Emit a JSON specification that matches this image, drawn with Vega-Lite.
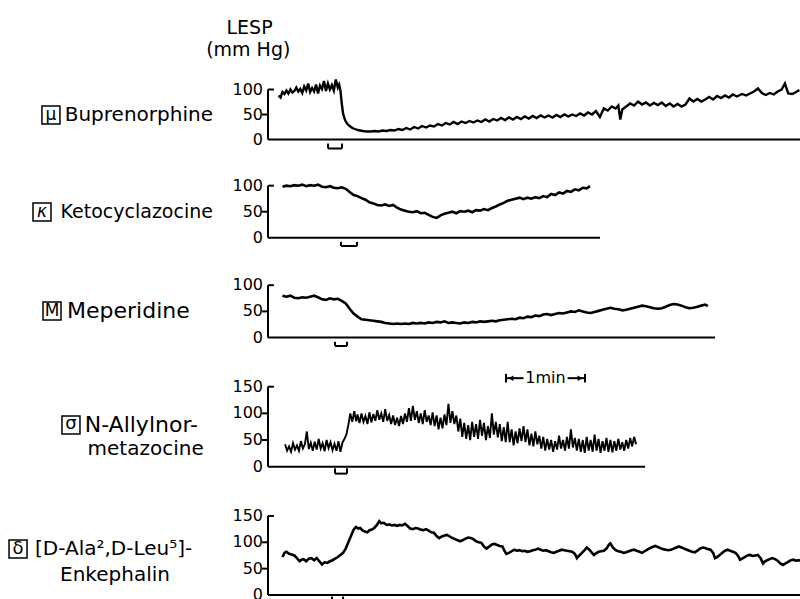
{
"$schema":"https://vega.github.io/schema/vega-lite/v6.json",
"width":800,"height":599,"autosize":{"type":"none"},"padding":0,"background":"white",
"config":{"view":{"stroke":null},"text":{"font":"DejaVu Sans","color":"black"},"rule":{"color":"black","strokeWidth":2}},
"datasets":{
"p1":[{"t":8,"v":88},{"t":9.5,"v":84},{"t":11,"v":95},{"t":12.5,"v":91},{"t":14,"v":98},{"t":15.5,"v":92},{"t":17,"v":100},{"t":18.5,"v":94},{"t":20,"v":97},{"t":21.5,"v":104},{"t":23,"v":96},{"t":24.5,"v":101},{"t":26,"v":93},{"t":27.5,"v":106},{"t":29,"v":98},{"t":30.5,"v":112},{"t":32,"v":95},{"t":33.5,"v":103},{"t":35,"v":96},{"t":36.5,"v":110},{"t":38,"v":92},{"t":39.5,"v":108},{"t":41,"v":101},{"t":42.5,"v":117},{"t":44,"v":97},{"t":45.5,"v":112},{"t":47,"v":100},{"t":48.5,"v":109},{"t":50,"v":98},{"t":51.5,"v":120},{"t":53,"v":104},{"t":54,"v":110},{"t":55,"v":98},{"t":56,"v":72},{"t":57,"v":52},{"t":58.5,"v":39},{"t":60,"v":32},{"t":62,"v":27},{"t":64,"v":23},{"t":66,"v":21},{"t":68,"v":19},{"t":70,"v":18},{"t":72,"v":17},{"t":75,"v":16},{"t":78,"v":16},{"t":81,"v":17},{"t":84,"v":16},{"t":87,"v":18},{"t":90,"v":17},{"t":93,"v":19},{"t":96,"v":18},{"t":99,"v":21},{"t":102,"v":19},{"t":105,"v":23},{"t":108,"v":20},{"t":111,"v":25},{"t":114,"v":22},{"t":117,"v":27},{"t":120,"v":24},{"t":123,"v":28},{"t":126,"v":26},{"t":129,"v":31},{"t":132,"v":28},{"t":135,"v":33},{"t":138,"v":30},{"t":141,"v":35},{"t":144,"v":31},{"t":147,"v":36},{"t":150,"v":33},{"t":153,"v":37},{"t":156,"v":34},{"t":159,"v":38},{"t":162,"v":35},{"t":165,"v":40},{"t":168,"v":36},{"t":171,"v":41},{"t":174,"v":38},{"t":177,"v":43},{"t":180,"v":39},{"t":183,"v":44},{"t":186,"v":40},{"t":189,"v":45},{"t":192,"v":41},{"t":195,"v":46},{"t":198,"v":42},{"t":201,"v":47},{"t":204,"v":43},{"t":207,"v":48},{"t":210,"v":44},{"t":213,"v":48},{"t":216,"v":44},{"t":219,"v":49},{"t":222,"v":45},{"t":225,"v":50},{"t":228,"v":46},{"t":231,"v":50},{"t":234,"v":47},{"t":237,"v":52},{"t":240,"v":48},{"t":243,"v":54},{"t":246,"v":50},{"t":249,"v":57},{"t":252,"v":45},{"t":255,"v":62},{"t":258,"v":58},{"t":261,"v":66},{"t":264,"v":62},{"t":266,"v":68},{"t":267.5,"v":40},{"t":269,"v":60},{"t":272,"v":66},{"t":275,"v":72},{"t":278,"v":68},{"t":281,"v":76},{"t":284,"v":70},{"t":287,"v":74},{"t":290,"v":68},{"t":293,"v":73},{"t":296,"v":69},{"t":299,"v":74},{"t":302,"v":67},{"t":305,"v":72},{"t":308,"v":66},{"t":311,"v":71},{"t":314,"v":66},{"t":317,"v":70},{"t":320,"v":82},{"t":323,"v":76},{"t":326,"v":81},{"t":329,"v":76},{"t":332,"v":80},{"t":335,"v":85},{"t":338,"v":80},{"t":341,"v":87},{"t":344,"v":83},{"t":347,"v":88},{"t":350,"v":84},{"t":353,"v":90},{"t":356,"v":86},{"t":360,"v":91},{"t":363,"v":88},{"t":366,"v":92},{"t":369,"v":96},{"t":372,"v":102},{"t":375,"v":93},{"t":378,"v":89},{"t":381,"v":93},{"t":384,"v":90},{"t":387,"v":96},{"t":390,"v":100},{"t":392.5,"v":112},{"t":395,"v":92},{"t":398,"v":91},{"t":401,"v":95},{"t":403.5,"v":99}],
"p2":[{"t":11,"v":98},{"t":14,"v":100},{"t":17,"v":99},{"t":20,"v":101},{"t":23,"v":100},{"t":26,"v":102},{"t":29,"v":99},{"t":32,"v":101},{"t":35,"v":100},{"t":38,"v":102},{"t":41,"v":98},{"t":44,"v":97},{"t":47,"v":99},{"t":50,"v":96},{"t":53,"v":95},{"t":56,"v":97},{"t":59,"v":94},{"t":62,"v":88},{"t":65,"v":82},{"t":68,"v":80},{"t":71,"v":76},{"t":74,"v":73},{"t":77,"v":68},{"t":80,"v":66},{"t":83,"v":63},{"t":86,"v":62},{"t":89,"v":64},{"t":92,"v":61},{"t":95,"v":63},{"t":98,"v":58},{"t":101,"v":54},{"t":104,"v":52},{"t":107,"v":50},{"t":110,"v":49},{"t":113,"v":51},{"t":116,"v":47},{"t":119,"v":48},{"t":122,"v":44},{"t":125,"v":40},{"t":128,"v":38},{"t":131,"v":43},{"t":134,"v":46},{"t":137,"v":48},{"t":140,"v":50},{"t":143,"v":47},{"t":146,"v":51},{"t":149,"v":50},{"t":152,"v":52},{"t":155,"v":49},{"t":158,"v":53},{"t":161,"v":52},{"t":164,"v":55},{"t":167,"v":53},{"t":170,"v":57},{"t":173,"v":60},{"t":176,"v":64},{"t":179,"v":67},{"t":182,"v":71},{"t":185,"v":73},{"t":188,"v":75},{"t":191,"v":77},{"t":194,"v":74},{"t":197,"v":77},{"t":200,"v":75},{"t":203,"v":78},{"t":206,"v":76},{"t":209,"v":80},{"t":212,"v":78},{"t":215,"v":84},{"t":218,"v":82},{"t":221,"v":87},{"t":224,"v":85},{"t":227,"v":90},{"t":230,"v":88},{"t":233,"v":93},{"t":236,"v":91},{"t":239,"v":96},{"t":242,"v":95},{"t":244.5,"v":99}],
"p3":[{"t":11,"v":80},{"t":14,"v":78},{"t":17,"v":80},{"t":20,"v":76},{"t":23,"v":75},{"t":26,"v":77},{"t":29,"v":76},{"t":32,"v":78},{"t":35,"v":80},{"t":38,"v":77},{"t":41,"v":73},{"t":44,"v":72},{"t":47,"v":75},{"t":50,"v":73},{"t":53,"v":74},{"t":56,"v":70},{"t":59,"v":65},{"t":62,"v":55},{"t":65,"v":46},{"t":68,"v":40},{"t":71,"v":35},{"t":74,"v":34},{"t":77,"v":33},{"t":80,"v":32},{"t":83,"v":31},{"t":86,"v":30},{"t":89,"v":28},{"t":92,"v":27},{"t":95,"v":26},{"t":98,"v":27},{"t":101,"v":26},{"t":104,"v":27},{"t":107,"v":26},{"t":110,"v":28},{"t":113,"v":27},{"t":116,"v":28},{"t":119,"v":27},{"t":122,"v":29},{"t":125,"v":28},{"t":128,"v":30},{"t":131,"v":29},{"t":134,"v":31},{"t":137,"v":28},{"t":140,"v":29},{"t":143,"v":28},{"t":146,"v":27},{"t":149,"v":29},{"t":152,"v":28},{"t":155,"v":30},{"t":158,"v":29},{"t":161,"v":31},{"t":164,"v":30},{"t":167,"v":31},{"t":170,"v":32},{"t":173,"v":31},{"t":176,"v":33},{"t":179,"v":34},{"t":182,"v":35},{"t":185,"v":36},{"t":188,"v":35},{"t":191,"v":38},{"t":194,"v":37},{"t":197,"v":40},{"t":200,"v":39},{"t":203,"v":42},{"t":206,"v":41},{"t":209,"v":44},{"t":212,"v":45},{"t":215,"v":43},{"t":218,"v":45},{"t":221,"v":47},{"t":224,"v":46},{"t":227,"v":48},{"t":230,"v":50},{"t":233,"v":49},{"t":236,"v":52},{"t":239,"v":50},{"t":242,"v":48},{"t":245,"v":47},{"t":248,"v":49},{"t":251,"v":51},{"t":254,"v":53},{"t":257,"v":55},{"t":260,"v":57},{"t":263,"v":55},{"t":266,"v":54},{"t":269,"v":52},{"t":272,"v":53},{"t":275,"v":55},{"t":278,"v":57},{"t":281,"v":59},{"t":284,"v":61},{"t":287,"v":60},{"t":290,"v":58},{"t":293,"v":56},{"t":296,"v":55},{"t":299,"v":56},{"t":302,"v":59},{"t":305,"v":62},{"t":308,"v":64},{"t":311,"v":63},{"t":314,"v":61},{"t":317,"v":58},{"t":320,"v":56},{"t":323,"v":57},{"t":326,"v":59},{"t":329,"v":61},{"t":332,"v":63},{"t":334,"v":60}],
"p4":[{"t":13,"v":42},{"t":14.5,"v":30},{"t":16,"v":38},{"t":17.5,"v":28},{"t":19,"v":44},{"t":20.5,"v":32},{"t":22,"v":40},{"t":23.5,"v":30},{"t":25,"v":48},{"t":26.5,"v":34},{"t":28,"v":42},{"t":29.5,"v":66},{"t":31,"v":33},{"t":32.5,"v":45},{"t":34,"v":30},{"t":35.5,"v":47},{"t":37,"v":32},{"t":38.5,"v":52},{"t":40,"v":34},{"t":41.5,"v":44},{"t":43,"v":29},{"t":44.5,"v":50},{"t":46,"v":35},{"t":47.5,"v":46},{"t":49,"v":31},{"t":50.5,"v":43},{"t":52,"v":30},{"t":53.5,"v":48},{"t":55,"v":28},{"t":56.5,"v":45},{"t":58,"v":52},{"t":59.5,"v":60},{"t":61,"v":78},{"t":62.5,"v":100},{"t":64,"v":84},{"t":65.5,"v":104},{"t":67,"v":85},{"t":68,"v":98},{"t":69.5,"v":82},{"t":71,"v":100},{"t":72.5,"v":84},{"t":74,"v":95},{"t":75.5,"v":80},{"t":77,"v":102},{"t":78.5,"v":83},{"t":80,"v":99},{"t":81.5,"v":86},{"t":83,"v":106},{"t":84.5,"v":88},{"t":86,"v":100},{"t":87.5,"v":84},{"t":89,"v":108},{"t":90.5,"v":86},{"t":92,"v":97},{"t":93.5,"v":80},{"t":95,"v":96},{"t":96.5,"v":78},{"t":98,"v":92},{"t":99.5,"v":76},{"t":101,"v":95},{"t":102.5,"v":80},{"t":104,"v":100},{"t":105.5,"v":84},{"t":107,"v":110},{"t":108.5,"v":86},{"t":110,"v":114},{"t":111.5,"v":88},{"t":113,"v":104},{"t":114.5,"v":82},{"t":116,"v":100},{"t":117.5,"v":80},{"t":119,"v":106},{"t":120.5,"v":84},{"t":122,"v":96},{"t":123.5,"v":78},{"t":125,"v":102},{"t":126.5,"v":76},{"t":128,"v":96},{"t":129.5,"v":70},{"t":131,"v":92},{"t":132.5,"v":72},{"t":134,"v":98},{"t":135.5,"v":78},{"t":137,"v":118},{"t":138.5,"v":82},{"t":140,"v":104},{"t":141.5,"v":80},{"t":143,"v":96},{"t":144.5,"v":66},{"t":146,"v":90},{"t":147.5,"v":56},{"t":149,"v":82},{"t":150.5,"v":52},{"t":152,"v":78},{"t":153.5,"v":50},{"t":155,"v":84},{"t":156.5,"v":56},{"t":158,"v":80},{"t":159.5,"v":52},{"t":161,"v":88},{"t":162.5,"v":58},{"t":164,"v":82},{"t":165.5,"v":50},{"t":167,"v":76},{"t":168.5,"v":54},{"t":170,"v":100},{"t":171.5,"v":60},{"t":173,"v":84},{"t":174.5,"v":55},{"t":176,"v":80},{"t":177.5,"v":48},{"t":179,"v":74},{"t":180.5,"v":46},{"t":182,"v":84},{"t":183.5,"v":46},{"t":185,"v":70},{"t":186.5,"v":40},{"t":188,"v":66},{"t":189.5,"v":44},{"t":191,"v":72},{"t":192.5,"v":48},{"t":194,"v":76},{"t":195.5,"v":46},{"t":197,"v":70},{"t":198.5,"v":40},{"t":200,"v":62},{"t":201.5,"v":38},{"t":203,"v":66},{"t":204.5,"v":42},{"t":206,"v":58},{"t":207.5,"v":34},{"t":209,"v":56},{"t":210.5,"v":30},{"t":212,"v":52},{"t":213.5,"v":32},{"t":215,"v":50},{"t":216.5,"v":28},{"t":218,"v":48},{"t":219.5,"v":32},{"t":221,"v":58},{"t":222.5,"v":34},{"t":224,"v":50},{"t":225.5,"v":30},{"t":227,"v":56},{"t":228.5,"v":34},{"t":230,"v":70},{"t":231.5,"v":36},{"t":233,"v":54},{"t":234.5,"v":30},{"t":236,"v":52},{"t":237.5,"v":28},{"t":239,"v":50},{"t":240.5,"v":26},{"t":242,"v":56},{"t":243.5,"v":30},{"t":245,"v":50},{"t":246.5,"v":28},{"t":248,"v":60},{"t":249.5,"v":30},{"t":251,"v":52},{"t":252.5,"v":26},{"t":254,"v":48},{"t":255.5,"v":30},{"t":257,"v":54},{"t":258.5,"v":28},{"t":260,"v":50},{"t":261.5,"v":27},{"t":263,"v":48},{"t":264.5,"v":30},{"t":266,"v":52},{"t":267.5,"v":32},{"t":269,"v":46},{"t":270.5,"v":30},{"t":272,"v":50},{"t":273.5,"v":34},{"t":275,"v":54},{"t":276.5,"v":38},{"t":278,"v":56},{"t":279.5,"v":42}],
"p5":[{"t":11,"v":72},{"t":12.5,"v":80},{"t":14,"v":82},{"t":16,"v":78},{"t":18,"v":77},{"t":20,"v":75},{"t":22,"v":70},{"t":24,"v":64},{"t":25.5,"v":67},{"t":27,"v":68},{"t":29,"v":64},{"t":31,"v":69},{"t":33,"v":70},{"t":35,"v":66},{"t":37,"v":70},{"t":39,"v":64},{"t":41,"v":58},{"t":43,"v":62},{"t":45,"v":61},{"t":47,"v":64},{"t":49,"v":66},{"t":51,"v":69},{"t":53,"v":72},{"t":55,"v":76},{"t":57,"v":80},{"t":59,"v":88},{"t":61,"v":100},{"t":63,"v":112},{"t":65,"v":124},{"t":66.8,"v":129},{"t":68.5,"v":126},{"t":70,"v":127},{"t":72,"v":122},{"t":74,"v":120},{"t":75.5,"v":119},{"t":77,"v":123},{"t":79,"v":124},{"t":81,"v":128},{"t":83,"v":134},{"t":84.5,"v":140},{"t":86,"v":136},{"t":88,"v":137},{"t":90,"v":133},{"t":92,"v":134},{"t":94,"v":132},{"t":96,"v":133},{"t":98,"v":131},{"t":100,"v":133},{"t":102,"v":132},{"t":104,"v":135},{"t":106,"v":131},{"t":108,"v":126},{"t":110,"v":125},{"t":112,"v":127},{"t":114,"v":126},{"t":116,"v":124},{"t":118,"v":123},{"t":120,"v":125},{"t":122,"v":122},{"t":124,"v":119},{"t":126,"v":118},{"t":128,"v":112},{"t":130,"v":108},{"t":132,"v":111},{"t":134,"v":113},{"t":136,"v":114},{"t":138,"v":111},{"t":140,"v":108},{"t":142,"v":106},{"t":144,"v":104},{"t":146,"v":102},{"t":148,"v":104},{"t":150,"v":107},{"t":152,"v":109},{"t":154,"v":108},{"t":156,"v":106},{"t":158,"v":102},{"t":160,"v":100},{"t":162,"v":99},{"t":164,"v":92},{"t":166,"v":88},{"t":168,"v":92},{"t":170,"v":96},{"t":172,"v":97},{"t":174,"v":95},{"t":176,"v":93},{"t":178,"v":92},{"t":179.5,"v":84},{"t":181,"v":78},{"t":183,"v":80},{"t":185,"v":83},{"t":187,"v":86},{"t":189,"v":84},{"t":191,"v":85},{"t":193,"v":83},{"t":195,"v":84},{"t":197,"v":82},{"t":199,"v":83},{"t":201,"v":85},{"t":203,"v":86},{"t":205,"v":88},{"t":207,"v":86},{"t":209,"v":84},{"t":211,"v":85},{"t":213,"v":83},{"t":215,"v":81},{"t":217,"v":80},{"t":219,"v":82},{"t":221,"v":84},{"t":223,"v":86},{"t":225,"v":85},{"t":227,"v":84},{"t":229,"v":83},{"t":231,"v":82},{"t":233,"v":78},{"t":234.6,"v":70},{"t":236,"v":74},{"t":238,"v":79},{"t":240,"v":84},{"t":242,"v":90},{"t":244,"v":86},{"t":246,"v":80},{"t":247.5,"v":76},{"t":249,"v":79},{"t":251,"v":82},{"t":253,"v":83},{"t":255,"v":84},{"t":257,"v":88},{"t":259,"v":96},{"t":260,"v":98},{"t":262,"v":90},{"t":264,"v":85},{"t":266,"v":83},{"t":268,"v":82},{"t":270,"v":80},{"t":272,"v":81},{"t":274,"v":83},{"t":276,"v":85},{"t":278,"v":86},{"t":280,"v":84},{"t":282,"v":82},{"t":284,"v":80},{"t":286,"v":83},{"t":288,"v":86},{"t":290,"v":89},{"t":292,"v":91},{"t":294,"v":93},{"t":296,"v":91},{"t":298,"v":89},{"t":300,"v":87},{"t":302,"v":86},{"t":304,"v":85},{"t":306,"v":86},{"t":308,"v":88},{"t":310,"v":90},{"t":312,"v":92},{"t":314,"v":90},{"t":316,"v":88},{"t":318,"v":86},{"t":320,"v":84},{"t":322,"v":82},{"t":324,"v":81},{"t":326,"v":84},{"t":328,"v":88},{"t":330,"v":90},{"t":332,"v":89},{"t":334,"v":87},{"t":336,"v":86},{"t":338,"v":80},{"t":339.4,"v":70},{"t":341,"v":72},{"t":343,"v":76},{"t":345,"v":80},{"t":347,"v":84},{"t":349,"v":86},{"t":351,"v":84},{"t":353,"v":82},{"t":355,"v":80},{"t":357,"v":74},{"t":358.4,"v":67},{"t":360,"v":69},{"t":362,"v":72},{"t":364,"v":75},{"t":366,"v":76},{"t":368,"v":74},{"t":370,"v":75},{"t":372,"v":76},{"t":374,"v":70},{"t":375.9,"v":60},{"t":377,"v":63},{"t":379,"v":66},{"t":381,"v":68},{"t":383,"v":70},{"t":385,"v":68},{"t":387,"v":65},{"t":389,"v":60},{"t":391,"v":57},{"t":393,"v":60},{"t":395,"v":63},{"t":397,"v":66},{"t":399,"v":67},{"t":401,"v":65},{"t":403,"v":66},{"t":404,"v":65}]
},
"layer":[
{"layer":[
 {"data":{"name":"p1"},"mark":{"type":"line","color":"black","strokeWidth":2.4},"encoding":{"x":{"field":"t","type":"quantitative","scale":{"domain":[-203.49,403.95],"nice":false,"zero":false},"axis":null},"y":{"field":"v","type":"quantitative","scale":{"domain":[-919,279],"nice":false,"zero":false},"axis":null}}},
 {"data":{"values":[{}]},"mark":"rule","encoding":{"x":{"datum":0},"x2":{"datum":403.95},"y":{"datum":0}}},
 {"data":{"values":[{}]},"mark":"rule","encoding":{"x":{"datum":0},"y":{"datum":0},"y2":{"datum":100}}},
 {"data":{"values":[{}]},"mark":"rule","encoding":{"x":{"datum":0},"x2":{"datum":4.5},"y":{"datum":100}}},
 {"data":{"values":[{}]},"mark":"rule","encoding":{"x":{"datum":-4.5},"x2":{"datum":0},"y":{"datum":50}}},
 {"data":{"values":[{"v":0},{"v":50},{"v":100}]},"mark":{"type":"text","align":"right","baseline":"middle","fontSize":16},"encoding":{"x":{"datum":-3.8},"y":{"field":"v","type":"quantitative"},"text":{"field":"v"}}},
 {"data":{"values":[{"s":45.6,"e":56.2}]},"mark":"rule","encoding":{"x":{"field":"s","type":"quantitative"},"x2":{"field":"e"},"y":{"datum":-18}}},
 {"data":{"values":[{"s":45.6,"e":56.2}]},"mark":"rule","encoding":{"x":{"field":"s","type":"quantitative"},"y":{"datum":-8},"y2":{"datum":-18}}},
 {"data":{"values":[{"s":45.6,"e":56.2}]},"mark":"rule","encoding":{"x":{"field":"e","type":"quantitative"},"y":{"datum":-8},"y2":{"datum":-18}}},
 {"data":{"values":[{}]},"mark":{"type":"text","text":"Buprenorphine","align":"right","baseline":"middle","fontSize":20},"encoding":{"x":{"datum":-41.8},"y":{"datum":49}}},
 {"data":{"values":[{}]},"mark":{"type":"point","shape":"square","filled":false,"stroke":"black","strokeWidth":1.5,"size":324,"opacity":1},"encoding":{"x":{"datum":-164.8},"y":{"datum":49}}},
 {"data":{"values":[{}]},"mark":{"type":"text","text":"μ","align":"center","baseline":"middle","fontSize":17},"encoding":{"x":{"datum":-164.8},"y":{"datum":49}}},
 {"data":{"values":[{}]},"mark":{"type":"text","text":"LESP","align":"center","baseline":"middle","fontSize":19},"encoding":{"x":{"datum":-14},"y":{"datum":223}}},
 {"data":{"values":[{}]},"mark":{"type":"text","text":"(mm Hg)","align":"center","baseline":"middle","fontSize":19},"encoding":{"x":{"datum":-15},"y":{"datum":179}}}
]},
{"layer":[
 {"data":{"name":"p2"},"mark":{"type":"line","color":"black","strokeWidth":2.6},"encoding":{"x":{"field":"t","type":"quantitative","scale":{"domain":[-203.49,403.95],"nice":false,"zero":false},"axis":null},"y":{"field":"v","type":"quantitative","scale":{"domain":[-694.8,457.1],"nice":false,"zero":false},"axis":null}}},
 {"data":{"values":[{}]},"mark":"rule","encoding":{"x":{"datum":0},"x2":{"datum":252.1},"y":{"datum":0}}},
 {"data":{"values":[{}]},"mark":"rule","encoding":{"x":{"datum":0},"y":{"datum":0},"y2":{"datum":100}}},
 {"data":{"values":[{}]},"mark":"rule","encoding":{"x":{"datum":0},"x2":{"datum":4.5},"y":{"datum":100}}},
 {"data":{"values":[{}]},"mark":"rule","encoding":{"x":{"datum":-4.5},"x2":{"datum":0},"y":{"datum":50}}},
 {"data":{"values":[{"v":0},{"v":50},{"v":100}]},"mark":{"type":"text","align":"right","baseline":"middle","fontSize":16},"encoding":{"x":{"datum":-3.8},"y":{"field":"v","type":"quantitative"},"text":{"field":"v"}}},
 {"data":{"values":[{"s":55.4,"e":67.6}]},"mark":"rule","encoding":{"x":{"field":"s","type":"quantitative"},"x2":{"field":"e"},"y":{"datum":-16}}},
 {"data":{"values":[{"s":55.4,"e":67.6}]},"mark":"rule","encoding":{"x":{"field":"s","type":"quantitative"},"y":{"datum":-8},"y2":{"datum":-16}}},
 {"data":{"values":[{"s":55.4,"e":67.6}]},"mark":"rule","encoding":{"x":{"field":"e","type":"quantitative"},"y":{"datum":-8},"y2":{"datum":-16}}},
 {"data":{"values":[{}]},"mark":{"type":"text","text":"Ketocyclazocine","align":"right","baseline":"middle","fontSize":19},"encoding":{"x":{"datum":-41.8},"y":{"datum":49.4}}},
 {"data":{"values":[{}]},"mark":{"type":"point","shape":"square","filled":false,"stroke":"black","strokeWidth":1.5,"size":324,"opacity":1},"encoding":{"x":{"datum":-171.6},"y":{"datum":49.4}}},
 {"data":{"values":[{}]},"mark":{"type":"text","text":"κ","align":"center","baseline":"middle","fontSize":17,"fontStyle":"italic"},"encoding":{"x":{"datum":-171.6},"y":{"datum":49.4}}}
]},
{"layer":[
 {"data":{"name":"p3"},"mark":{"type":"line","color":"black","strokeWidth":2.6},"encoding":{"x":{"field":"t","type":"quantitative","scale":{"domain":[-203.49,403.95],"nice":false,"zero":false},"axis":null},"y":{"field":"v","type":"quantitative","scale":{"domain":[-498.9,644.3],"nice":false,"zero":false},"axis":null}}},
 {"data":{"values":[{}]},"mark":"rule","encoding":{"x":{"datum":0},"x2":{"datum":339.4},"y":{"datum":0}}},
 {"data":{"values":[{}]},"mark":"rule","encoding":{"x":{"datum":0},"y":{"datum":0},"y2":{"datum":100}}},
 {"data":{"values":[{}]},"mark":"rule","encoding":{"x":{"datum":0},"x2":{"datum":4.5},"y":{"datum":100}}},
 {"data":{"values":[{}]},"mark":"rule","encoding":{"x":{"datum":-4.5},"x2":{"datum":0},"y":{"datum":50}}},
 {"data":{"values":[{"v":0},{"v":50},{"v":100}]},"mark":{"type":"text","align":"right","baseline":"middle","fontSize":16},"encoding":{"x":{"datum":-3.8},"y":{"field":"v","type":"quantitative"},"text":{"field":"v"}}},
 {"data":{"values":[{"s":50.9,"e":60.0}]},"mark":"rule","encoding":{"x":{"field":"s","type":"quantitative"},"x2":{"field":"e"},"y":{"datum":-16}}},
 {"data":{"values":[{"s":50.9,"e":60.0}]},"mark":"rule","encoding":{"x":{"field":"s","type":"quantitative"},"y":{"datum":-8},"y2":{"datum":-16}}},
 {"data":{"values":[{"s":50.9,"e":60.0}]},"mark":"rule","encoding":{"x":{"field":"e","type":"quantitative"},"y":{"datum":-8},"y2":{"datum":-16}}},
 {"data":{"values":[{}]},"mark":{"type":"text","text":"Meperidine","align":"left","baseline":"middle","fontSize":22},"encoding":{"x":{"datum":-152.6},"y":{"datum":50.8}}},
 {"data":{"values":[{}]},"mark":{"type":"point","shape":"square","filled":false,"stroke":"black","strokeWidth":1.5,"size":324,"opacity":1},"encoding":{"x":{"datum":-164},"y":{"datum":50.8}}},
 {"data":{"values":[{}]},"mark":{"type":"text","text":"M","align":"center","baseline":"middle","fontSize":17},"encoding":{"x":{"datum":-164},"y":{"datum":50.8}}}
]},
{"layer":[
 {"data":{"name":"p4"},"mark":{"type":"line","color":"black","strokeWidth":1.9},"encoding":{"x":{"field":"t","type":"quantitative","scale":{"domain":[-203.49,403.95],"nice":false,"zero":false},"axis":null},"y":{"field":"v","type":"quantitative","scale":{"domain":[-248.1,875.1],"nice":false,"zero":false},"axis":null}}},
 {"data":{"values":[{}]},"mark":"rule","encoding":{"x":{"datum":0},"x2":{"datum":286.3},"y":{"datum":0}}},
 {"data":{"values":[{}]},"mark":"rule","encoding":{"x":{"datum":0},"y":{"datum":0},"y2":{"datum":150}}},
 {"data":{"values":[{}]},"mark":"rule","encoding":{"x":{"datum":0},"x2":{"datum":4.5},"y":{"datum":150}}},
 {"data":{"values":[{"v":50},{"v":100}]},"mark":"rule","encoding":{"x":{"datum":-4.5},"x2":{"datum":0},"y":{"field":"v","type":"quantitative"}}},
 {"data":{"values":[{"v":0},{"v":50},{"v":100},{"v":150}]},"mark":{"type":"text","align":"right","baseline":"middle","fontSize":16},"encoding":{"x":{"datum":-3.8},"y":{"field":"v","type":"quantitative"},"text":{"field":"v"}}},
 {"data":{"values":[{"s":50.9,"e":60.0}]},"mark":"rule","encoding":{"x":{"field":"s","type":"quantitative"},"x2":{"field":"e"},"y":{"datum":-13}}},
 {"data":{"values":[{"s":50.9,"e":60.0}]},"mark":"rule","encoding":{"x":{"field":"s","type":"quantitative"},"y":{"datum":-3},"y2":{"datum":-13}}},
 {"data":{"values":[{"s":50.9,"e":60.0}]},"mark":"rule","encoding":{"x":{"field":"e","type":"quantitative"},"y":{"datum":-3},"y2":{"datum":-13}}},
 {"data":{"values":[{}]},"mark":{"type":"text","text":"N-Allylnor-","align":"left","baseline":"middle","fontSize":22},"encoding":{"x":{"datum":-139.2},"y":{"datum":78.2}}},
 {"data":{"values":[{}]},"mark":{"type":"text","text":"metazocine","align":"left","baseline":"middle","fontSize":20},"encoding":{"x":{"datum":-137},"y":{"datum":33.2}}},
 {"data":{"values":[{}]},"mark":{"type":"point","shape":"square","filled":false,"stroke":"black","strokeWidth":1.5,"size":324,"opacity":1},"encoding":{"x":{"datum":-149.6},"y":{"datum":78.2}}},
 {"data":{"values":[{}]},"mark":{"type":"text","text":"σ","align":"center","baseline":"middle","fontSize":18},"encoding":{"x":{"datum":-149.6},"y":{"datum":80}}},
 {"data":{"values":[{}]},"mark":"rule","encoding":{"x":{"datum":180.7},"x2":{"datum":194},"y":{"datum":166}}},
 {"data":{"values":[{}]},"mark":"rule","encoding":{"x":{"datum":227.5},"x2":{"datum":240.7},"y":{"datum":166}}},
 {"data":{"values":[{}]},"mark":"rule","encoding":{"x":{"datum":180.7},"y":{"datum":158},"y2":{"datum":174}}},
 {"data":{"values":[{}]},"mark":"rule","encoding":{"x":{"datum":240.7},"y":{"datum":158},"y2":{"datum":174}}},
 {"data":{"values":[{}]},"mark":{"type":"point","shape":"triangle-left","filled":true,"color":"black","size":30,"opacity":1},"encoding":{"x":{"datum":184.5},"y":{"datum":166}}},
 {"data":{"values":[{}]},"mark":{"type":"point","shape":"triangle-right","filled":true,"color":"black","size":30,"opacity":1},"encoding":{"x":{"datum":236.9},"y":{"datum":166}}},
 {"data":{"values":[{}]},"mark":{"type":"text","text":"1min","align":"center","baseline":"middle","fontSize":16},"encoding":{"x":{"datum":210.7},"y":{"datum":166}}}
]},
{"layer":[
 {"data":{"name":"p5"},"mark":{"type":"line","color":"black","strokeWidth":2.6},"encoding":{"x":{"field":"t","type":"quantitative","scale":{"domain":[-203.49,403.95],"nice":false,"zero":false},"axis":null},"y":{"field":"v","type":"quantitative","scale":{"domain":[-7.6,1129],"nice":false,"zero":false},"axis":null}}},
 {"data":{"values":[{}]},"mark":"rule","encoding":{"x":{"datum":0},"x2":{"datum":403.95},"y":{"datum":0}}},
 {"data":{"values":[{}]},"mark":"rule","encoding":{"x":{"datum":0},"y":{"datum":0},"y2":{"datum":150}}},
 {"data":{"values":[{}]},"mark":"rule","encoding":{"x":{"datum":0},"x2":{"datum":4.5},"y":{"datum":150}}},
 {"data":{"values":[{"v":50},{"v":100}]},"mark":"rule","encoding":{"x":{"datum":-4.5},"x2":{"datum":0},"y":{"field":"v","type":"quantitative"}}},
 {"data":{"values":[{"v":0},{"v":50},{"v":100},{"v":150}]},"mark":{"type":"text","align":"right","baseline":"middle","fontSize":16},"encoding":{"x":{"datum":-3.8},"y":{"field":"v","type":"quantitative"},"text":{"field":"v"}}},
 {"data":{"values":[{"s":48.6,"e":57.0}]},"mark":"rule","encoding":{"x":{"field":"s","type":"quantitative"},"y":{"datum":-3},"y2":{"datum":-13}}},
 {"data":{"values":[{"s":48.6,"e":57.0}]},"mark":"rule","encoding":{"x":{"field":"e","type":"quantitative"},"y":{"datum":-3},"y2":{"datum":-13}}},
 {"data":{"values":[{}]},"mark":{"type":"text","text":"[D-Ala²,D-Leu⁵]-","align":"left","baseline":"middle","fontSize":20},"encoding":{"x":{"datum":-176.9},"y":{"datum":87.3}}},
 {"data":{"values":[{}]},"mark":{"type":"text","text":"Enkephalin","align":"left","baseline":"middle","fontSize":20},"encoding":{"x":{"datum":-157.9},"y":{"datum":38}}},
 {"data":{"values":[{}]},"mark":{"type":"point","shape":"square","filled":false,"stroke":"black","strokeWidth":1.5,"size":324,"opacity":1},"encoding":{"x":{"datum":-189.8},"y":{"datum":87.3}}},
 {"data":{"values":[{}]},"mark":{"type":"text","text":"δ","align":"center","baseline":"middle","fontSize":18},"encoding":{"x":{"datum":-189.8},"y":{"datum":88}}}
]}
],
"resolve":{"scale":{"y":"independent"}}
}
